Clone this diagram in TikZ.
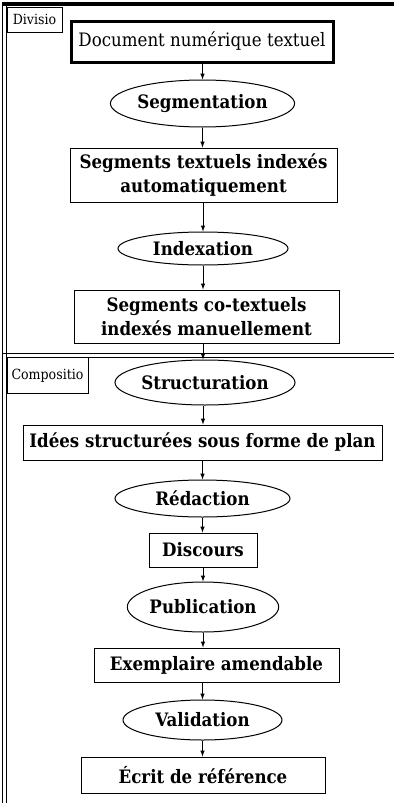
\documentclass[tikz,border=0pt]{standalone}
\usepackage{fontspec}
\setmainfont{DejaVu Serif Condensed}
\usetikzlibrary{arrows,shapes.geometric,positioning}

\tikzset{
  boite/.style={draw, rectangle, inner sep=0pt, align=center, font=\bfseries\fontsize{18.5}{24}\selectfont},
  etape/.style={draw, ellipse, inner sep=0pt, font=\bfseries\fontsize{18.5}{20}\selectfont},
  etiq/.style={draw, rectangle, inner sep=0pt, anchor=north west, font=\fontsize{14}{16}\selectfont},
  fleche/.style={-latex}
}

\begin{document}
\begin{tikzpicture}[x=1pt,y=-1pt,line width=1pt]
\useasboundingbox (0,0) rectangle (394,803);
\draw[line width=4pt] (2,4) -- (394,4);
\draw (2.5,2) -- (2.5,803);
\draw (6.5,6) -- (6.5,803);
\draw (2.5,353) -- (394,353);
\draw (6.5,357) -- (394,357);

\node[etiq, minimum width=55pt, minimum height=25pt] (divisio) at (6.5,6.5) {Divisio};
\node[etiq, minimum width=81pt, minimum height=36pt] (compositio) at (6.5,357) {Compositio};

\node[boite, line width=3pt, minimum width=262pt, minimum height=41pt, font=\fontsize{18.5}{20}\selectfont] (doc) at (202,41.5) {Document numérique textuel};
\node[etape, minimum width=161pt, minimum height=47pt] (segmentation) at (202.5,103.5) {Segmentation};
\node[boite, minimum width=267pt, minimum height=54pt] (segtextuels) at (203.5,175) {Segments textuels indexés\\automatiquement};
\node[etape, minimum width=170pt, minimum height=33pt] (indexation) at (203,248.5) {Indexation};
\node[boite, minimum width=265pt, minimum height=53pt] (segcotextuels) at (206.5,316.5) {Segments co-textuels\\indexés manuellement};
\node[etape, minimum width=144pt, minimum height=45pt] (structuration) at (205,382.5) {Structuration};
\node[boite, minimum width=359pt, minimum height=35pt] (idees) at (202.5,442.5) {Idées structurées sous forme de plan};
\node[etape, minimum width=175pt, minimum height=37pt] (redaction) at (202.5,498.5) {Rédaction};
\node[boite, minimum width=108pt, minimum height=34pt] (discours) at (203,550) {Discours};
\node[etape, minimum width=150pt, minimum height=50pt] (publication) at (203,607) {Publication};
\node[boite, minimum width=245pt, minimum height=34pt] (exemplaire) at (216.5,665) {Exemplaire amendable};
\node[etape, minimum width=159pt, minimum height=40pt] (validation) at (202.5,720) {Validation};
\node[boite, minimum width=244pt, minimum height=36pt] (ecrit) at (203,775) {Écrit de référence};

\draw[fleche] (doc.south -| segmentation) -- (segmentation);
\draw[fleche] (segmentation) -- (segmentation |- segtextuels.north);
\draw[fleche] (segtextuels.south -| indexation) -- (indexation);
\draw[fleche] (indexation) -- (indexation |- segcotextuels.north);
\draw[fleche] (segcotextuels.south -| indexation) -- (structuration.north -| indexation);
\draw[fleche] (structuration.south -| indexation) -- (idees.north -| indexation);
\draw[fleche] (idees.south -| redaction) -- (redaction);
\draw[fleche] (redaction) -- (redaction |- discours.north);
\draw[fleche] (discours) -- (publication);
\draw[fleche] (publication) -- (publication |- exemplaire.north);
\draw[fleche] (exemplaire.south -| validation) -- (validation);
\draw[fleche] (validation) -- (validation |- ecrit.north);
\end{tikzpicture}
\end{document}
